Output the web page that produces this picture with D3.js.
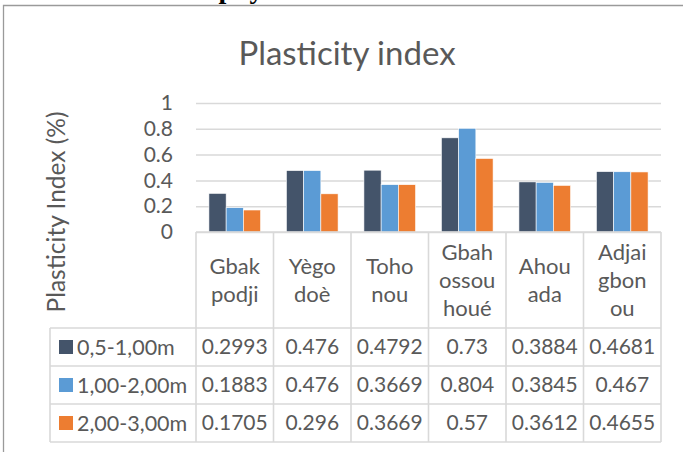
<!DOCTYPE html>
<html><head><meta charset="utf-8">
<script src="https://cdn.jsdelivr.net/npm/d3@7"></script>
<style>
html,body{margin:0;padding:0;background:#fff;}
svg{display:block;}
text{font-family:Lato,"Open Sans",sans-serif;fill:#595959;}
</style></head>
<body>
<svg id="c" width="683" height="452"></svg>
<script>
const categories = [["Gbak","podji"],["Yègo","doè"],["Toho","nou"],["Gbah","ossou","houé"],["Ahou","ada"],["Adjai","gbon","ou"]];
const seriesNames = ["0,5-1,00m","1,00-2,00m","2,00-3,00m"];
const s1 = [0.2993,0.476,0.4792,0.73,0.3884,0.4681];
const s2 = [0.1883,0.476,0.3669,0.804,0.3845,0.467];
const s3 = [0.1705,0.296,0.3669,0.57,0.3612,0.4655];
const seriesValues = [s1,s2,s3];
const labelsText = [["0.2993","0.476","0.4792","0.73","0.3884","0.4681"],["0.1883","0.476","0.3669","0.804","0.3845","0.467"],["0.1705","0.296","0.3669","0.57","0.3612","0.4655"]];
const colors = ["#44546a","#5b9bd5","#ed7d31"];
const yTicks = [0,0.2,0.4,0.6,0.8,1];
const titleText = "Plasticity index";
const yTitle = "Plasticity Index (%)";
const headerText = "3. Results of physical and mechanical tests";

const svg = d3.select("#c");
const catKeys = categories.map(c=>c.join(""));
const x = d3.scaleBand().domain(catKeys).range([196,661]).padding(0);
const xs = d3.scaleBand().domain(seriesNames).range([0,x.bandwidth()]).paddingInner(0).paddingOuter(0.75);
const y = d3.scaleLinear().domain([0,1]).range([232,103]);

// cut-off heading (only its lowest edge is visible, as in the source page)
svg.append("text").attr("x",66).attr("y",-2.5).text(headerText)
  .style("font-family","'Liberation Serif',serif").style("font-weight","bold").style("font-size","28px").style("fill","#000");

// chart border
svg.append("path").attr("d","M3.5,460V5.5H700").attr("fill","none").attr("stroke","#9a9a9a").attr("stroke-width",1.3);

// title
svg.append("text").attr("x",347).attr("y",65).attr("text-anchor","middle").style("font-size","33px").text(titleText);

// y axis + grid
const ya = svg.append("g").attr("transform","translate(196,0)")
  .call(d3.axisLeft(y).tickValues(yTicks).tickFormat(d=>String(d)).tickSizeInner(-465).tickSizeOuter(0).tickPadding(23));
ya.select(".domain").remove();
ya.selectAll("line").attr("stroke","#d9d9d9").attr("stroke-width",1.5);
ya.selectAll("text").style("font-size","21px").style("font-family","Lato,'Open Sans',sans-serif").attr("fill","#595959");

// y title
svg.append("text").attr("transform","translate(65,212) rotate(-90)").attr("text-anchor","middle")
  .style("font-size","24.5px").text(yTitle);

// bars
seriesNames.forEach((s,i)=>{
  svg.append("g").selectAll("rect").data(seriesValues[i]).join("rect")
    .attr("x",(d,j)=>x(catKeys[j])+xs(s))
    .attr("width",xs.bandwidth())
    .attr("y",d=>y(d)).attr("height",d=>y(0)-y(d))
    .attr("fill",colors[i]).attr("stroke","#fff").attr("stroke-width",0.6);
});

// table
const rowTop = 328, rowH = 38, legLeft = 50;
const tg = svg.append("g").attr("stroke","#d9d9d9").attr("stroke-width",1.6).attr("fill","none");
tg.append("line").attr("x1",196).attr("x2",661).attr("y1",232).attr("y2",232);
const bounds = catKeys.map(k=>x(k)).concat([x.range()[1]]);
bounds.forEach(b=>tg.append("line").attr("x1",b).attr("x2",b).attr("y1",232).attr("y2",rowTop+3*rowH));
tg.append("line").attr("x1",legLeft).attr("x2",legLeft).attr("y1",rowTop).attr("y2",rowTop+3*rowH);
for(let r=0;r<=3;r++) tg.append("line").attr("x1",legLeft).attr("x2",661).attr("y1",rowTop+r*rowH).attr("y2",rowTop+r*rowH);

// category labels
categories.forEach((c,j)=>{
  const cx = x(catKeys[j])+x.bandwidth()/2;
  const lh = 28, cy = 280;
  c.forEach((t,k)=>{
    svg.append("text").attr("x",cx).attr("y",cy+(k-(c.length-1)/2)*lh).attr("dy","0.35em")
      .attr("text-anchor","middle").style("font-size","22px").text(t);
  });
});

// legend + values
seriesNames.forEach((s,i)=>{
  const cy = rowTop+i*rowH+rowH/2;
  svg.append("rect").attr("x",59).attr("y",cy-7).attr("width",14).attr("height",14).attr("fill",colors[i]);
  svg.append("text").attr("x",77).attr("y",cy).attr("dy","0.35em").style("font-size","21.5px").text(s);
  labelsText[i].forEach((t,j)=>{
    svg.append("text").attr("x",x(catKeys[j])+x.bandwidth()/2).attr("y",cy).attr("dy","0.35em")
      .attr("text-anchor","middle").style("font-size","21px").text(t);
  });
});
</script>
</body></html>
